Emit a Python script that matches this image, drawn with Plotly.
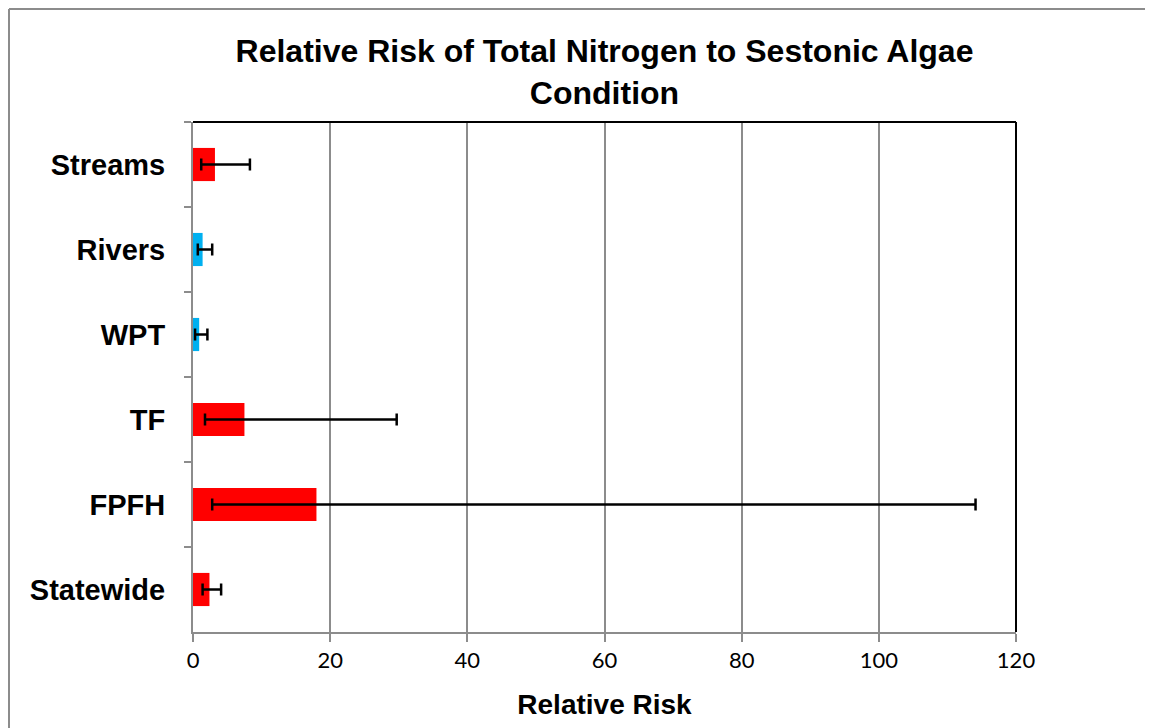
import plotly.graph_objects as go

categories = ["Streams", "Rivers", "WPT", "TF", "FPFH", "Statewide"]
relative_risk = [3.2, 1.4, 0.9, 7.5, 18.0, 2.4]
ci_lower = [1.2, 0.7, 0.3, 1.75, 2.8, 1.4]
ci_upper = [8.3, 2.8, 2.1, 29.7, 114.1, 4.1]
bar_colors = ["#FF0000", "#00B0F0", "#00B0F0", "#FF0000", "#FF0000", "#FF0000"]
x_ticks = [0, 20, 40, 60, 80, 100, 120]

err_plus = [u - v for u, v in zip(ci_upper, relative_risk)]
err_minus = [v - l for v, l in zip(relative_risk, ci_lower)]

fig = go.Figure()
fig.add_trace(go.Bar(
    y=categories, x=relative_risk, orientation="h",
    marker=dict(color=bar_colors, line=dict(width=0)),
    error_x=dict(type="data", symmetric=False, array=err_plus, arrayminus=err_minus,
                 color="black", thickness=2.5, width=6),
    width=0.39,
))

GRID = "#8c8c8c"
W, H = 1145, 720
L, R, T, B = 185, 137, 114, 96
PW = W - L - R
PH = H - T - B
fx0 = (1 - L) / PW          # left edge of outer frame (figure x = 1px)
fx1 = (W - L) / PW          # right edge of figure
fy1 = 1 + (T - 1) / PH      # top edge of outer frame (figure y = 1px)
fig.update_layout(
    width=W, height=H,
    margin=dict(l=L, r=R, t=T, b=B),
    paper_bgcolor="white", plot_bgcolor="white",
    showlegend=False,
    title=dict(text="Relative Risk of Total Nitrogen to Sestonic Algae<br>Condition",
               x=(L + PW / 2) / W, xanchor="center", y=1 - 54 / H, yanchor="middle",
               font=dict(family="Liberation Sans, Arial", size=32, color="black", weight="bold")),
    xaxis=dict(range=[0, 120], tickvals=x_ticks, showgrid=True, gridcolor=GRID, gridwidth=2,
               showline=True, linecolor=GRID, linewidth=2, ticks="outside", ticklen=8,
               tickcolor=GRID, tickwidth=2, zeroline=False,
               tickfont=dict(family="Lato, Roboto", size=22, color="black"),
               title=dict(text="Relative Risk", standoff=22,
                          font=dict(family="Liberation Sans, Arial", size=28, color="black", weight="bold"))),
    yaxis=dict(autorange="reversed", showline=True, linecolor=GRID, linewidth=2,
               ticks="outside", ticklen=7, tickcolor=GRID, tickwidth=2, tickson="boundaries",
               showgrid=False, ticklabelstandoff=20,
               tickfont=dict(family="Liberation Sans, Arial", size=29, color="black", weight="bold")),
    shapes=[
        dict(type="line", xref="paper", yref="paper", x0=0, x1=1, y0=1, y1=1,
             line=dict(color="black", width=2)),
        dict(type="line", xref="paper", yref="paper", x0=1, x1=1, y0=0, y1=1,
             line=dict(color="black", width=2)),
        dict(type="line", xref="paper", yref="paper", x0=fx0, x1=fx0, y0=-0.3, y1=fy1,
             line=dict(color=GRID, width=2)),
        dict(type="line", xref="paper", yref="paper", x0=fx0, x1=fx1, y0=fy1, y1=fy1,
             line=dict(color=GRID, width=2)),
    ],
)

fig.write_html("out.html")
